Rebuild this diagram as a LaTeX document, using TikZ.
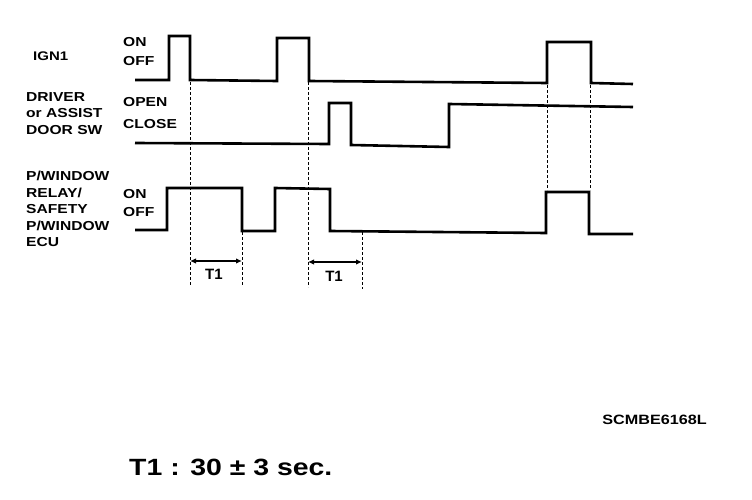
\documentclass[tikz,border=0pt]{standalone}
\usepackage{fontspec}
\setmainfont{Liberation Sans}
\newfontfamily\widefont[FakeStretch=1.2]{Liberation Sans}
\newfontfamily\midfont[FakeStretch=1.21]{Liberation Sans}
\usetikzlibrary{arrows.meta}
\begin{document}
\begin{tikzpicture}[x=1pt,y=-1pt,
  sig/.style={line width=2.6pt,line join=miter,line cap=butt},
  guide/.style={line width=0.9pt,dash pattern=on 3pt off 2pt},
  lbl/.style={anchor=west,inner sep=0pt,font=\widefont\fontsize{13}{16.5}\selectfont\bfseries},
  dimlbl/.style={inner sep=0pt,font=\fontsize{15}{17}\selectfont\bfseries},
  dim/.style={line width=1.4pt,{Latex[length=6pt,width=5.5pt]}-{Latex[length=6pt,width=5.5pt]}}]
\useasboundingbox (0,0) rectangle (752,500);
% labels
\node[lbl,font=\widefont\fontsize{12.5}{15}\selectfont\bfseries] (ign) at (33,56) {IGN1};
\node[lbl] (ion) at (123,42.5) {ON};
\node[lbl] (ioff) at (123,61) {OFF};
\node[lbl,align=left] (door) at (26,113.5) {DRIVER\\or ASSIST\\DOOR SW};
\node[lbl] (dopen) at (123,102) {OPEN};
\node[lbl] (dclose) at (123,124) {CLOSE};
\node[lbl,align=left] (pw) at (26,209) {P/WINDOW\\RELAY/\\SAFETY\\P/WINDOW\\ECU};
\node[lbl] (pon) at (123,194.5) {ON};
\node[lbl] (poff) at (123,212.5) {OFF};
% signals
\draw[sig] (135,80) -- (169,80) -- (169,36) -- (190,36) -- (190,80) -- (277,81) -- (277,38) -- (309,38) -- (309,81) -- (547,83) -- (547,42) -- (591,42) -- (591,83) -- (633,84);
\draw[sig] (135,143) -- (329,144) -- (329,103) -- (351,103) -- (351,145) -- (449,147) -- (449,104) -- (633,107);
\draw[sig] (135,230) -- (167,230) -- (167,188) -- (242,188) -- (242,231) -- (275,231) -- (275,188) -- (330,189) -- (330,231) -- (546,233) -- (546,192) -- (589,192) -- (589,234) -- (633,234);
% guides
\coordinate (g1a) at (190,82); \coordinate (g1b) at (190,285);
\coordinate (g2a) at (242,232); \coordinate (g2b) at (242,286);
\coordinate (g3a) at (308,82); \coordinate (g3b) at (308,287);
\coordinate (g4a) at (362,232); \coordinate (g4b) at (362,289);
\coordinate (g5a) at (547,85); \coordinate (g5b) at (547,190);
\coordinate (g6a) at (590,85); \coordinate (g6b) at (590,190);
\draw[guide] (g1a) -- (g1b);
\draw[guide] (g2a) -- (g2b);
\draw[guide] (g3a) -- (g3b);
\draw[guide] (g4a) -- (g4b);
\draw[guide] (g5a) -- (g5b);
\draw[guide] (g6a) -- (g6b);
% T1 dimensions
\coordinate (a1) at (190,261); \coordinate (b1) at (242,261);
\coordinate (a2) at (308,262); \coordinate (b2) at (362,262);
\draw[dim] (a1) -- (b1);
\draw[dim] (a2) -- (b2);
\node[dimlbl] (t1a) at (214,274) {T1};
\node[dimlbl] (t1b) at (334,276) {T1};
% footer
\node[anchor=east,inner sep=0pt,font=\widefont\fontsize{13.5}{15}\selectfont\bfseries] (code) at (707,420) {SCMBE6168L};
\node[anchor=west,inner sep=0pt,font=\midfont\fontsize{23.5}{26}\selectfont\bfseries] (t1def) at (129,467) {T1 : 30 ± 3 sec.};
\end{tikzpicture}
\end{document}
